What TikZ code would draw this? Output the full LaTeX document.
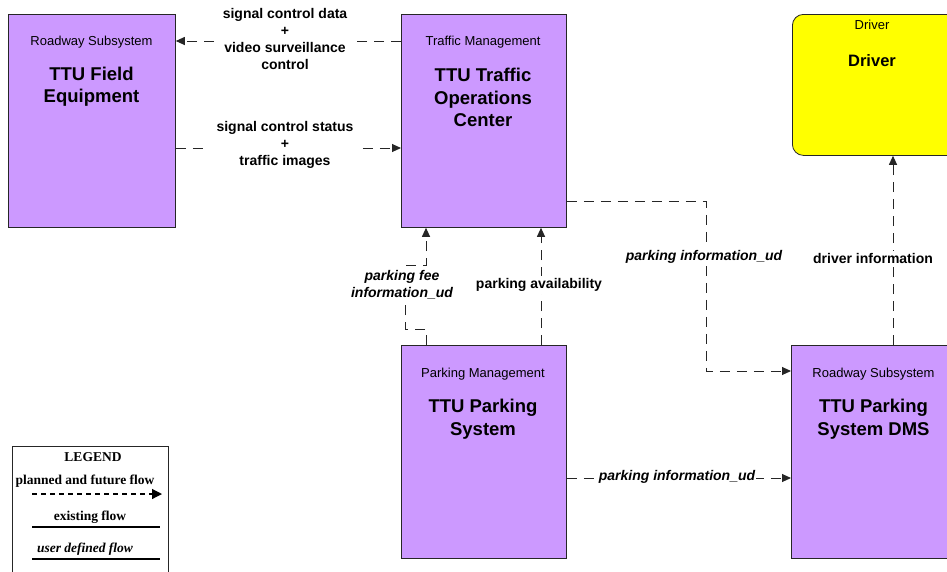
\documentclass[tikz,border=0pt]{standalone}
\usepackage{fontspec}
\setmainfont{Liberation Sans}
\newfontfamily\serifleg{Liberation Serif}
\usetikzlibrary{arrows.meta}
\definecolor{sysfill}{RGB}{204,153,255}
\definecolor{drvfill}{RGB}{255,255,0}
\begin{document}
\begin{tikzpicture}[x=1pt,y=-1pt,
 sysbox/.style={draw=black!85, line width=0.8pt, fill=sysfill, inner sep=0pt, minimum width=165pt, minimum height=213pt, anchor=north west},
 cat/.style={font=\fontsize{13}{15}\selectfont, inner sep=0pt},
 ttl/.style={font=\fontsize{18.5}{22.5}\selectfont\bfseries, align=center, inner sep=0pt},
 flow/.style={draw=black!85, line width=1pt, dash pattern=on 10pt off 7pt, -{Triangle[length=9pt,width=8pt]}},
 lbl/.style={font=\fontsize{14}{17}\selectfont\bfseries, align=center, fill=white, inner sep=2pt},
 ilbl/.style={lbl, font=\fontsize{14}{17}\selectfont\bfseries\itshape},
 leg/.style={font=\serifleg\fontsize{13.5}{15}\selectfont\bfseries, inner sep=0pt},
 legline/.style={line width=1.2pt, draw=black}]

\clip (0,0) rectangle (947,571);
\fill[white] (0,0) rectangle (947,571);

% boxes
\node[sysbox, minimum width=167pt] (fe) at (8,14) {};
\node[sysbox] (toc) at (401,14) {};
\node[sysbox, fill=drvfill, rounded corners=11pt, minimum width=170pt, minimum height=141pt] (drv) at (792,14) {};
\node[sysbox] (ps) at (401,345) {};
\node[sysbox, minimum width=170pt] (dms) at (791,345) {};

% box texts
\node[cat] (feC) at (91.5,42) {Roadway Subsystem};
\node[ttl] (feT) at (91.5,86.5) {TTU Field\\Equipment};
\node[cat] (tocC) at (483,42) {Traffic Management};
\node[ttl] (tocT) at (483,97.5) {TTU Traffic\\Operations\\Center};
\node[cat] (drvC) at (872,25) {Driver};
\node[ttl, font=\fontsize{16.5}{20}\selectfont\bfseries] (drvT) at (872,61) {Driver};
\node[cat] (psC) at (483,374) {Parking Management};
\node[ttl] (psT) at (483,419) {TTU Parking\\System};
\node[cat] (dmsC) at (873.5,374) {Roadway Subsystem};
\node[ttl] (dmsT) at (873.5,419) {TTU Parking\\System DMS};

% connectors
\draw[flow] ([yshift=-27pt]toc.north west) -- ([yshift=-27pt]fe.north east);
\draw[flow] ([yshift=-134pt]fe.north east) -- ([yshift=-134pt]toc.north west);
\draw[flow] ([xshift=25pt]ps.north west) -- ++(0,-16) -- ++(-21,0) -- ++(0,-64) -- ++(21,0) -- ([xshift=25pt]toc.south west);
\draw[flow] ([xshift=140pt]ps.north west) -- ([xshift=140pt]toc.south west);
\draw[flow] ([yshift=-187pt]toc.north east) -| ([xshift=-85pt]dms.north west) |- ([yshift=-26pt]dms.north west);
\draw[flow] ([xshift=102pt]dms.north west) -- ([xshift=101pt]drv.south west);
\draw[flow] ([yshift=-133pt]ps.north east) -- ([yshift=-133pt]dms.north west);

% connector labels
\node[lbl, inner xsep=8pt] (l1) at (285,38.5) {signal control data\\+\\video surveillance\\control};
\node[lbl, inner xsep=8pt] (l2) at (285,145) {signal control status\\+\\traffic images};
\node[ilbl, inner sep=1pt] (l3) at (402,284.5) {parking fee\\information\_ud};
\node[lbl] (l4) at (539,285) {parking availability};
\node[ilbl] (l5) at (704,257) {parking information\_ud};
\node[lbl] (l6) at (873,258) {driver information};
\node[ilbl, inner sep=1pt] (l7) at (677,477) {parking information\_ud};

% legend
\node[draw=black!85, line width=0.9pt, minimum width=156pt, minimum height=140pt, anchor=north west, inner sep=0pt] (lg) at (12,446) {};
\node[leg] (lgT) at (93,457) {LEGEND};
\node[leg] (lgP) at (85,481) {planned and future flow};
\coordinate (lpA) at (32,494);
\coordinate (lpB) at (162,494);
\draw[legline, dash pattern=on 5pt off 4pt, -{Triangle[length=10pt,width=10pt]}] (lpA) -- (lpB);
\node[leg] (lgE) at (90,517) {existing flow};
\coordinate (leA) at (32,527);
\coordinate (leB) at (160,527);
\draw[legline] (leA) -- (leB);
\node[leg, font=\serifleg\fontsize{13.5}{15}\selectfont\bfseries\itshape] (lgU) at (85,549) {user defined flow};
\coordinate (luA) at (32,559);
\coordinate (luB) at (160,559);
\draw[legline] (luA) -- (luB);
\end{tikzpicture}
\end{document}
